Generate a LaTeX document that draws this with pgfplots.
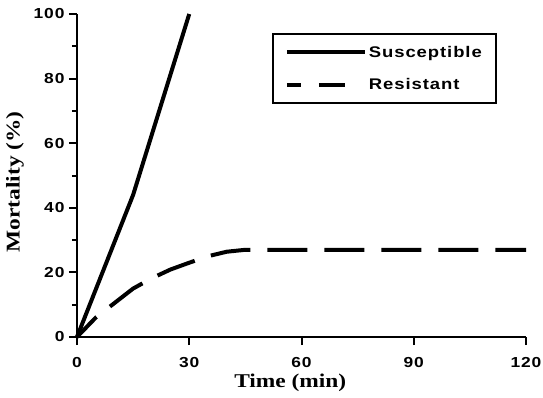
\documentclass[border=0pt]{standalone}
\usepackage{fontspec}
\usepackage{pgfplots}
\pgfplotsset{compat=1.18}
\setmainfont{Liberation Serif}
\newfontfamily\tickfont{Liberation Sans}[FakeStretch=1.2,LetterSpace=6]
\newfontfamily\labfont{Liberation Serif}[FakeStretch=1.2]
\begin{document}
\begin{tikzpicture}
\useasboundingbox (-77pt,-60pt) rectangle (466pt,337pt);
\begin{axis}[
  scale only axis, width=449pt, height=323pt,
  xmin=0, xmax=120, ymin=0, ymax=100,
  axis lines*=left,
  axis line style={line width=2pt, black},
  xtick={0,30,60,90,120},
  ytick={0,20,40,60,80,100},
  minor y tick num=1,
  tick align=outside,
  major tick length=8pt, minor tick length=5pt,
  every tick/.style={line width=2pt, black},
  /pgf/number format/assume math mode=true,
  ticklabel style={font=\tickfont\bfseries\fontsize{14.5}{16}\selectfont},
  xticklabel style={yshift=-9pt},
  yticklabel style={xshift=-1pt},
  xlabel={Time (min)},
  ylabel={Mortality (\%)},
  label style={font=\labfont\bfseries\fontsize{19.5}{22}\selectfont},
  xlabel style={at={(axis description cs:0.475,0)}, anchor=center, yshift=-46pt},
  ylabel style={at={(axis description cs:-0.138,0.48)}, anchor=center},
  clip=false,
  legend style={at={(axis description cs:0.935,0.941)}, anchor=north east,
    draw=black, line width=2pt, inner xsep=12pt, inner ysep=10pt,
    row sep=16pt, font=\tickfont\bfseries\fontsize{15.4}{18}\selectfont,
    cells={anchor=west}},
]
\addplot[black, line width=4pt, line join=round,
  legend image code/.code={\draw[line width=4pt] (0pt,0pt) -- (78pt,0pt);}]
  coordinates {(0,0) (15,44) (30,100)};
\addlegendentry{Susceptible}
\addplot[black, line width=4pt, line join=round, dash pattern=on 40pt off 17pt, dash phase=12pt,
  legend image code/.code={\draw[line width=4pt, dash pattern=on 26pt off 18pt] (0pt,0pt) -- (72pt,0pt);}]
  coordinates {(0,0) (5,6) (10,10.5) (15,15) (20,18.2) (25,20.9) (30,23) (35,25) (40,26.4) (45,27) (60,27) (90,27) (120,27)};
\addlegendentry{Resistant}
\end{axis}
\end{tikzpicture}
\end{document}
